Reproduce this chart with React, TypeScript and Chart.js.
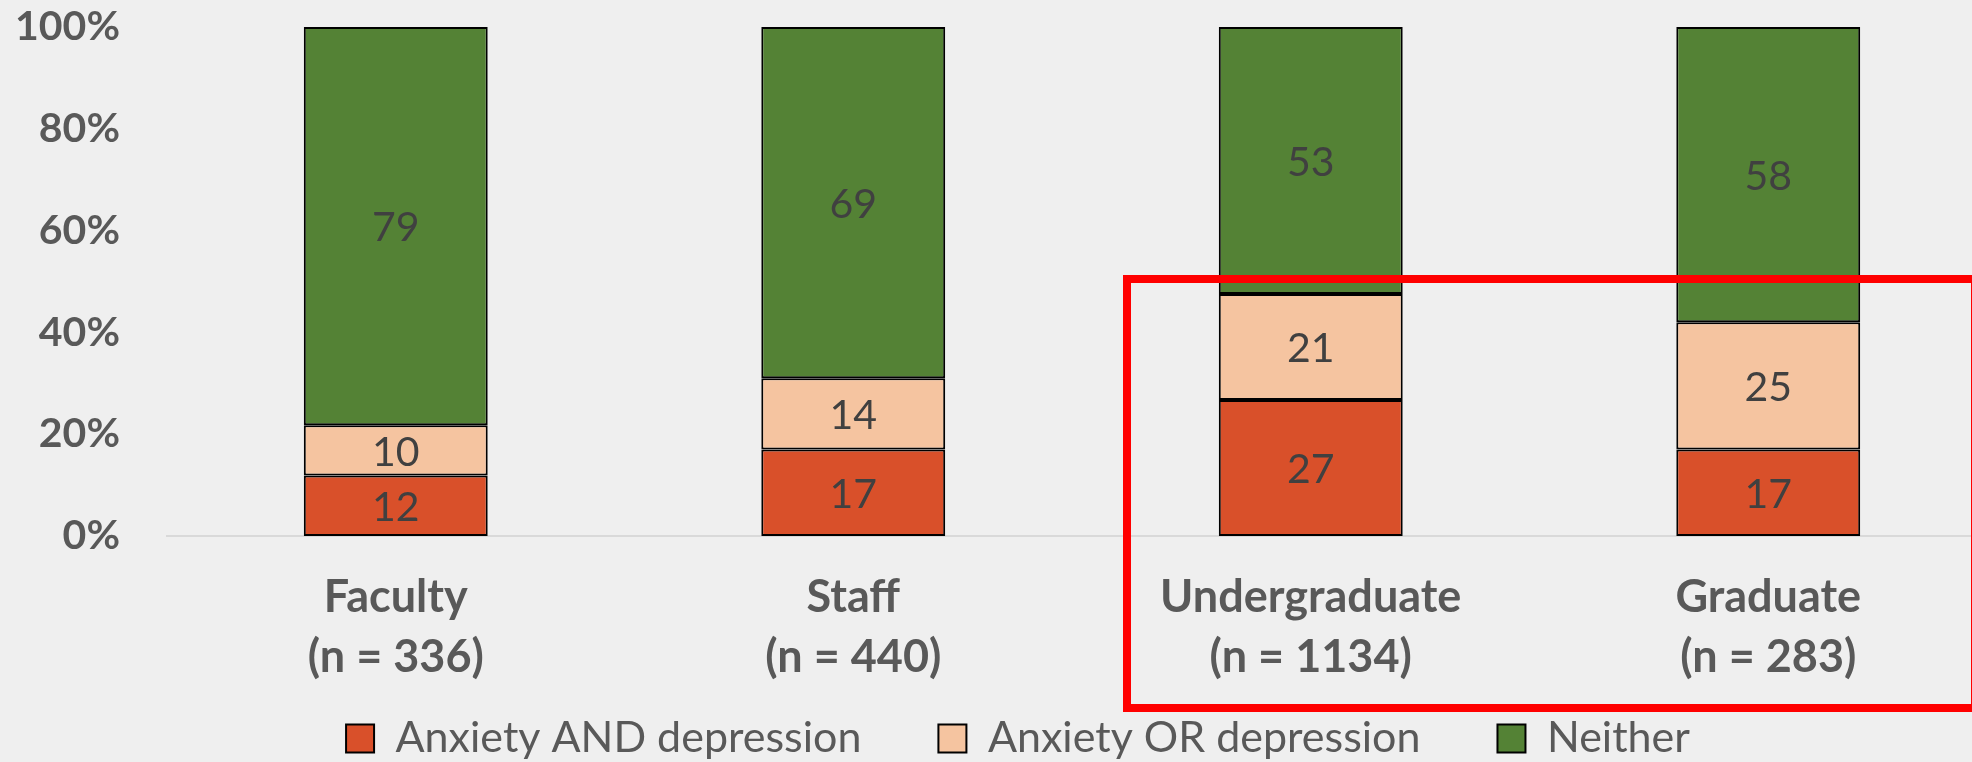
import React, { useEffect, useRef } from 'react';
import { Chart, registerables } from 'chart.js';

Chart.register(...registerables);

const categories: string[][] = [
  ['Faculty', '(n = 336)'],
  ['Staff', '(n = 440)'],
  ['Undergraduate', '(n = 1134)'],
  ['Graduate', '(n = 283)'],
];
const seriesNames = ['Anxiety AND depression', 'Anxiety OR depression', 'Neither'];
const anxietyAndDepression = [12, 17, 27, 17];
const anxietyOrDepression = [10, 14, 21, 25];
const neither = [79, 69, 53, 58];
const yTickValues = [0, 20, 40, 60, 80, 100];
const seriesColors = ['#D9502A', '#F5C4A0', '#548235'];

const W = 2036;
const H = 836;
const FONT = 'Lato, "Open Sans", sans-serif';

const rawSeries = [anxietyAndDepression, anxietyOrDepression, neither];
const totals = categories.map((_, i) => rawSeries.reduce((s, arr) => s + arr[i], 0));

const dataLabelPlugin = {
  id: 'dataLabels',
  afterDatasetsDraw(chart: any) {
    const ctx = chart.ctx;
    ctx.save();
    ctx.font = `41px ${FONT}`;
    ctx.fillStyle = '#404040';
    ctx.textAlign = 'center';
    ctx.textBaseline = 'middle';
    chart.data.datasets.forEach((ds: any, di: number) => {
      const meta = chart.getDatasetMeta(di);
      meta.data.forEach((el: any, i: number) => {
        const p = el.getProps(['x', 'y', 'base'], true);
        ctx.fillText(String(ds.rawValues[i]), p.x, (p.y + p.base) / 2 + 2);
      });
    });
    ctx.restore();
  },
};

const highlightPlugin = {
  id: 'highlightBox',
  afterDraw(chart: any) {
    const ctx = chart.ctx;
    ctx.save();
    ctx.strokeStyle = '#FF0000';
    ctx.lineWidth = 8;
    ctx.strokeRect(1127, 279, 848, 429);
    ctx.restore();
  },
};

// place the legend block just under the category labels and centre it on the full canvas width
const legendPlacePlugin = {
  id: 'legendPlace',
  afterLayout(chart: any) {
    const lg = chart.legend;
    if (!lg) return;
    const h = lg.bottom - lg.top;
    lg.right = W;
    lg.top = chart.chartArea.bottom + 104;
    lg.bottom = lg.top + h;
  },
};

export default function App() {
  const canvasRef = useRef<HTMLCanvasElement | null>(null);

  useEffect(() => {
    const canvas = canvasRef.current;
    if (!canvas) return;
    const datasets = rawSeries.map((arr, si) => ({
      label: seriesNames[si],
      data: arr.map((v, i) => (v / totals[i]) * 100),
      rawValues: arr,
      backgroundColor: seriesColors[si],
      borderColor: '#000000',
      borderWidth: 2,
      borderSkipped: false,
      categoryPercentage: 1,
      barPercentage: 0.402,
    }));
    const chart = new Chart(canvas, {
      type: 'bar',
      data: { labels: categories, datasets: datasets as any },
      options: {
        animation: false,
        responsive: false,
        devicePixelRatio: 1,
        layout: { padding: { top: 27, right: 39, left: 0, bottom: 0 } },
        plugins: {
          tooltip: { enabled: false },
          legend: {
            position: 'bottom',
            labels: {
              boxWidth: 28,
              boxHeight: 28,
              padding: 77,
              color: '#595959',
              font: { family: FONT, size: 43 },
            },
          },
        },
        scales: {
          x: {
            stacked: true,
            grid: { display: false, drawTicks: false },
            border: { display: true, color: '#D9D9D9', width: 2 },
            ticks: {
              color: '#595959',
              padding: 31,
              font: { family: FONT, size: 45, weight: 'bold', lineHeight: 60 / 45 },
              maxRotation: 0,
              autoSkip: false,
            },
            afterFit(scale: any) {
              scale.height = 170;
            },
          },
          y: {
            stacked: true,
            min: 0,
            max: 100,
            grid: { display: false, drawTicks: false },
            border: { display: false },
            afterBuildTicks(scale: any) {
              scale.ticks = yTickValues.map((v) => ({ value: v }));
            },
            ticks: {
              color: '#595959',
              padding: 47,
              font: { family: FONT, size: 41, weight: 'bold' },
              callback: (v: any) => `${v}%`,
            },
            afterFit(scale: any) {
              scale.width = 167;
              scale.paddingTop = 0;
              scale.paddingBottom = 0;
            },
          },
        },
      },
      plugins: [dataLabelPlugin, highlightPlugin, legendPlacePlugin],
    });
    return () => chart.destroy();
  }, []);

  return (
    <div
      style={{
        position: 'fixed',
        left: 0,
        top: 0,
        width: 1972,
        height: 762,
        overflow: 'hidden',
        background: '#EFEFEF',
      }}
    >
      <canvas ref={canvasRef} width={W} height={H} style={{ width: W, height: H, display: 'block' }} />
    </div>
  );
}
